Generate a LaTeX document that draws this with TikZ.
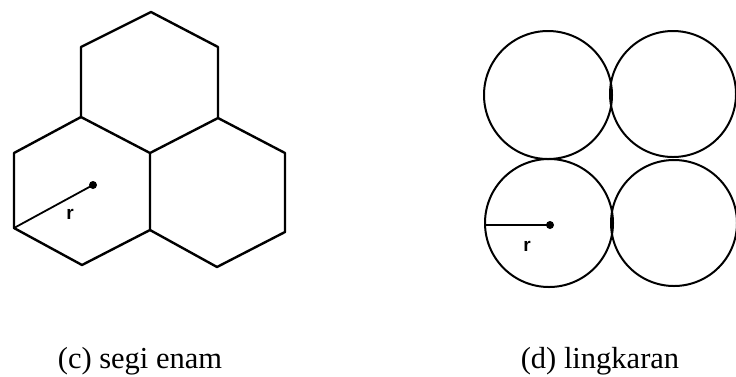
\documentclass[tikz,border=0pt]{standalone}
\usepackage{fontspec}
\setmainfont{Liberation Serif}
\newfontfamily\rfont{Liberation Sans}
\begin{document}
\begin{tikzpicture}[x=1pt,y=-1pt,
  hexline/.style={line width=2.4pt,line join=round},
  circline/.style={line width=2pt},
  radline/.style={line width=1.8pt},
  caption/.style={font=\fontsize{30.5}{34}\selectfont,anchor=base,inner sep=0pt},
  rlabel/.style={font=\rfont\bfseries\fontsize{19}{22}\selectfont,inner sep=0pt}]
\useasboundingbox (0,0) rectangle (736,376);
% hexagons
\coordinate (t1) at (151,12);
\coordinate (t2) at (218,47);
\coordinate (t3) at (218,118);
\coordinate (m)  at (150,153);
\coordinate (t5) at (81,117);
\coordinate (t6) at (81,47);
\coordinate (l2) at (14,153);
\coordinate (l3) at (14,228);
\coordinate (l4) at (82,265);
\coordinate (b)  at (150,230);
\coordinate (r2) at (285,153);
\coordinate (r3) at (285,232);
\coordinate (r4) at (217,267);
\draw[hexline] (t1) -- (t2) -- (t3) -- (m) -- (t5) -- (t6) -- cycle;
\draw[hexline] (t5) -- (l2) -- (l3) -- (l4) -- (b) -- (m);
\draw[hexline] (t3) -- (r2) -- (r3) -- (r4) -- (b);
\coordinate (hc) at (93,185);
\draw[radline] (hc) -- (l3);
\fill (hc) circle (4);
\node[rlabel] (rh) at (70,214) {r};
% circles
\draw[circline] (548,95) circle (64);
\draw[circline] (549,223) circle (64);
\draw[circline] (673,94) circle (63);
\draw[circline] (674,223) circle (63);
\coordinate (cc) at (550,225);
\coordinate (ce) at (485,225);
\draw[line width=1.2pt] (ce) -- (cc);
\fill (cc) circle (4);
\node[rlabel] (rc) at (527,246) {r};
% captions
\node[caption] (capc) at (140,368) {(c) segi enam};
\node[caption] (capd) at (600,368) {(d) lingkaran};
\end{tikzpicture}
\end{document}
